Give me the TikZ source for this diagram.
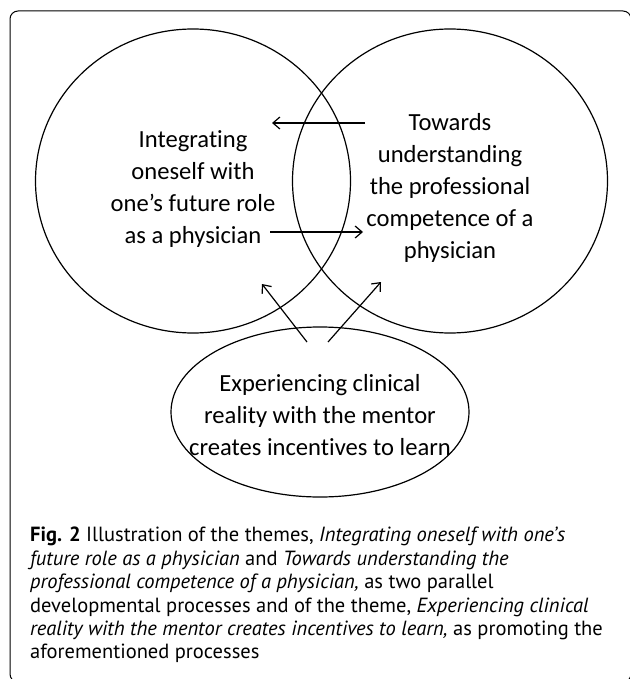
\documentclass[tikz,border=0pt]{standalone}
\usepackage{fontspec}
\setmainfont{Carlito}[Ligatures=NoCommon]
\newfontfamily\capfont{PT Sans}
\usetikzlibrary{shapes.geometric,arrows.meta}

\begin{document}
\begin{tikzpicture}[x=1pt, y=-1pt,
		theme/.style={draw, ellipse, line width=1.2pt, inner sep=0pt},
		themetext/.style={align=center, inner sep=0pt, font=\fontsize{24.6}{32}\selectfont},
		flow/.style={->, >={Straight Barb[length=7pt, width=12pt]}, line width=1.2pt}]
				\useasboundingbox (0,0) rectangle (629,679);
				\draw[line width=1pt, rounded corners=8pt] (10,11) rectangle (631,682);
				\node[theme, minimum width=315pt, minimum height=304pt] (I)at(193, 181) {};
				\node[theme, minimum width=315pt, minimum height=304pt] (T)at(450, 181) {};
				\node[theme, minimum width=298pt, minimum height=170pt] (E)at(320, 412) {};
				\node[themetext] (It)at([yshift=-8pt]I.center) {Integrating\\oneself with\\one’s future role\\as a physician};
				\node[themetext] (Tt)at([yshift=-7pt]T.center) {Towards\\understanding\\the professional\\competence of a\\physician};
				\node[themetext] (Et)at([yshift=-3pt]E.center) {Experiencing clinical\\reality with the mentor\\creates incentives to learn};
				\coordinate (TI0)at(365, 123);
				\coordinate (TI1)at(272, 123);
				\coordinate (IT0)at(270, 232);
				\coordinate (IT1)at(363, 232);
				\coordinate (EI0)at(307, 342);
				\coordinate (EI1)at(262, 284);
				\coordinate (ET0)at(328, 342);
				\coordinate (ET1)at(381, 282);
				\draw[flow] (TI0) -- (TI1);
				\draw[flow] (IT0) -- (IT1);
				\draw[flow] (EI0) -- (EI1);
				\draw[flow] (ET0) -- (ET1);
				\node[anchor=north west, align=left, inner sep=0pt, font=\capfont\fontsize{20.5}{23.4}\selectfont] (cap)at(30, 527) {\textbf{Fig. 2} Illustration of the themes, \textit{Integrating oneself with one’s}\\
					\textit{future role as a physician} and \textit{Towards understanding the}\\
					\textit{professional competence of a physician,} as two parallel\\
					developmental processes and of the theme, \textit{Experiencing clinical}\\
					\textit{reality with the mentor creates incentives to learn,} as promoting the\\
					aforementioned processes};
			\end{tikzpicture}
\end{document}
